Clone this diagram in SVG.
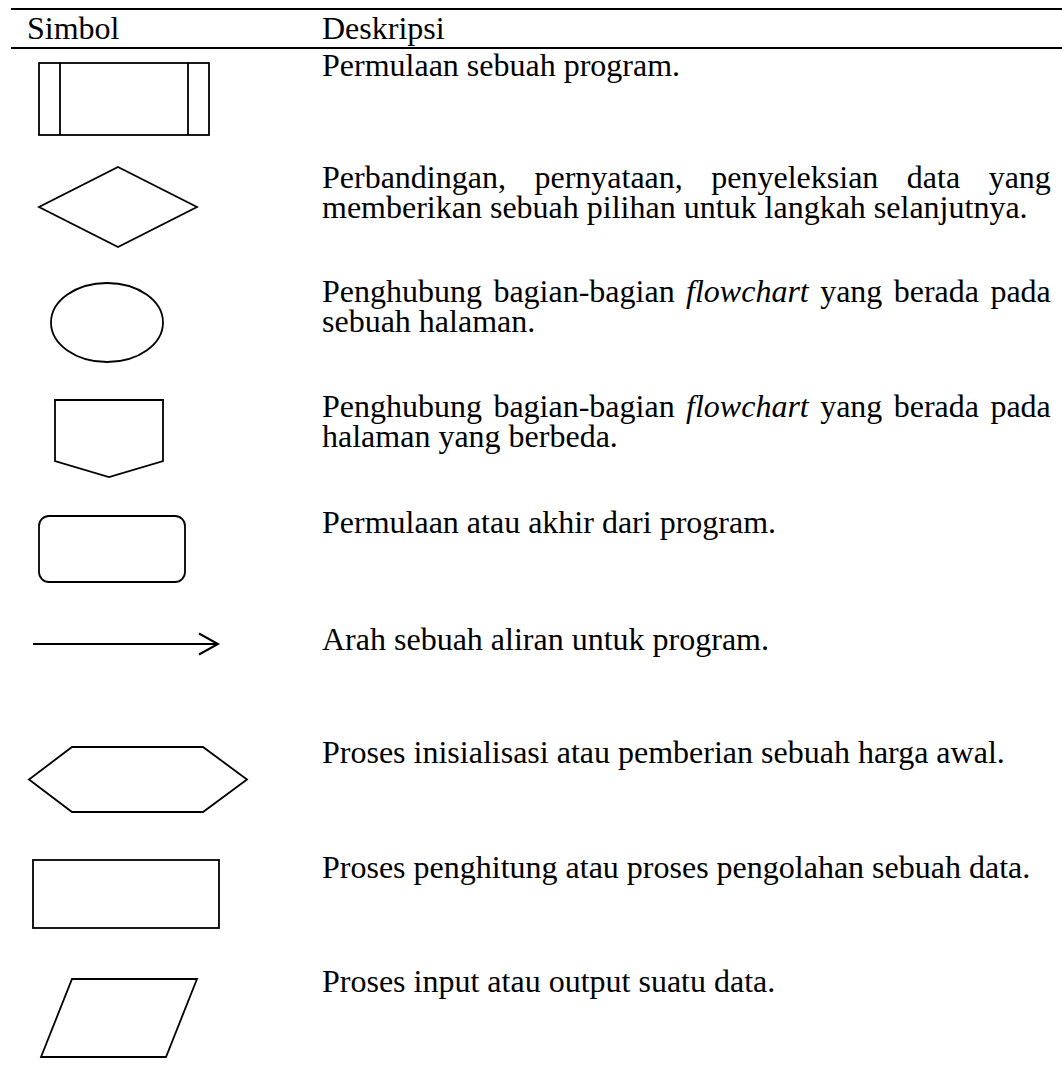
<svg xmlns="http://www.w3.org/2000/svg" width="1062" height="1068" viewBox="0 0 1062 1068">
  <style>
    .t { font-family: "Liberation Serif", "Times New Roman", serif; font-size: 32px; fill: #000; }
    .it { font-style: italic; }
    .sym { fill: none; stroke: #000; stroke-width: 1.8; stroke-linejoin: miter; }
    .rule { stroke: #000; stroke-width: 2; }
  </style>
  <defs>
    <marker id="open-arrow" markerUnits="userSpaceOnUse" markerWidth="24" markerHeight="24" refX="20" refY="12" orient="auto">
      <polyline points="1,1.5 20,12 1,22.5" fill="none" stroke="#000" stroke-width="2"/>
    </marker>
  </defs>
  <rect width="1062" height="1068" fill="#fff"/>

  <g id="table-rules">
    <line class="rule" x1="11" y1="9" x2="1062" y2="9"/>
    <line class="rule" x1="11" y1="48" x2="1062" y2="48"/>
  </g>

  <g id="header">
    <text class="t" x="27" y="39">Simbol</text>
    <text class="t" x="322" y="39">Deskripsi</text>
  </g>

  <g id="row-predefined">
    <rect class="sym" x="39" y="63" width="170" height="72"/>
    <line class="sym" x1="60" y1="63" x2="60" y2="135"/>
    <line class="sym" x1="188" y1="63" x2="188" y2="135"/>
    <text class="t" x="322" y="76">Permulaan sebuah program.</text>
  </g>

  <g id="row-decision">
    <polygon class="sym" points="118,167 197,207 118,247 39,207"/>
    <text class="t" x="322" y="188" word-spacing="20.5">Perbandingan, pernyataan, penyeleksian data yang</text>
    <text class="t" x="322" y="218">memberikan sebuah pilihan untuk langkah selanjutnya.</text>
  </g>

  <g id="row-connector">
    <ellipse class="sym" cx="107" cy="322.5" rx="56" ry="39.5"/>
    <text class="t" x="322" y="302" word-spacing="3.4">Penghubung bagian-bagian <tspan class="it">flowchart</tspan> yang berada pada</text>
    <text class="t" x="322" y="332">sebuah halaman.</text>
  </g>

  <g id="row-offpage">
    <polygon class="sym" points="55,400 163,400 163,461 109,477 55,461"/>
    <text class="t" x="322" y="417" word-spacing="3.4">Penghubung bagian-bagian <tspan class="it">flowchart</tspan> yang berada pada</text>
    <text class="t" x="322" y="447">halaman yang berbeda.</text>
  </g>

  <g id="row-terminator">
    <rect class="sym" x="39" y="516" width="146" height="66" rx="10" ry="10"/>
    <text class="t" x="322" y="533">Permulaan atau akhir dari program.</text>
  </g>

  <g id="connectors">
    <g id="row-flow">
      <line class="sym" x1="33" y1="644" x2="218" y2="644" stroke-width="2" marker-end="url(#open-arrow)"/>
    </g>
  </g>
  <g id="row-flow-text">
    <text class="t" x="322" y="650">Arah sebuah aliran untuk program.</text>
  </g>

  <g id="row-preparation">
    <polygon class="sym" points="72,747 203,747 247,779.5 203,812 72,812 29,779.5"/>
    <text class="t" x="322" y="763">Proses inisialisasi atau pemberian sebuah harga awal.</text>
  </g>

  <g id="row-process">
    <rect class="sym" x="33" y="860" width="186" height="68"/>
    <text class="t" x="322" y="878">Proses penghitung atau proses pengolahan sebuah data.</text>
  </g>

  <g id="row-io">
    <polygon class="sym" points="72,979 197,979 166,1057 41,1057"/>
    <text class="t" x="322" y="992">Proses input atau output suatu data.</text>
  </g>
</svg>
